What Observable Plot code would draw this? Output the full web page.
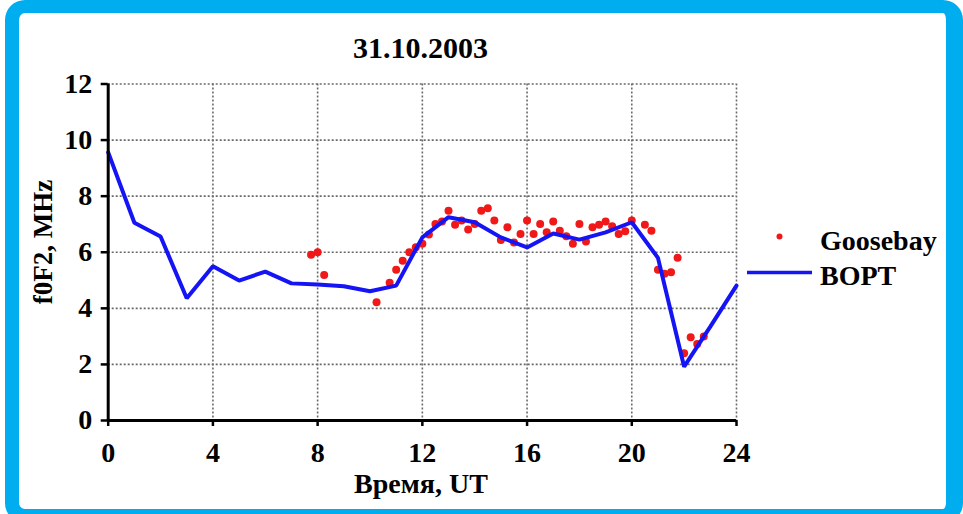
<!DOCTYPE html>
<html>
<head>
<meta charset="utf-8">
<script src="https://cdn.jsdelivr.net/npm/d3@7"></script>
<script src="https://cdn.jsdelivr.net/npm/@observablehq/plot@0.6"></script>
<style>
  html, body { margin: 0; padding: 0; background: #fff; width: 963px; height: 514px; overflow: hidden; }
  #frame {
    position: absolute; left: 5px; top: 0;
    width: 927px; height: 496px;
    border: solid #00adef; border-width: 13px 17px 14px 14px;
    border-radius: 20px; background: #fff;
  }
  #chart { position: absolute; left: 19px; top: 13px; }
  #overlay { position: absolute; left: 0; top: 0; pointer-events: none; }
  #overlay text { font-family: "Liberation Serif", "Times New Roman", serif; font-weight: bold; fill: #000; }
</style>
</head>
<body>
<div id="frame"></div>
<div id="chart"></div>
<svg id="overlay" width="963" height="514">
  <text x="420.5" y="58" text-anchor="middle" font-size="30">31.10.2003</text>
  <text x="421" y="493" text-anchor="middle" font-size="28">Время, UT</text>
  <text transform="translate(52,242) rotate(-90)" text-anchor="middle" font-size="27">f0F2, MHz</text>
  <circle cx="779.5" cy="236.5" r="3" fill="#f01818"></circle>
  <text x="820" y="250" font-size="28">Goosebay</text>
  <line x1="747" x2="812" y1="272.5" y2="272.5" stroke="#1414f5" stroke-width="3.5"></line>
  <text x="820" y="285" font-size="28">BOPT</text>
</svg>
<script>
// f0F2 at Goose Bay, 31 Oct 2003 (15-minute soundings, UT hours)
const gooseHours = [7.75, 8, 8.25, 10.25, 10.75, 11, 11.25, 11.5, 11.75,
  12, 12.25, 12.5, 12.75, 13, 13.25, 13.5, 13.75, 14, 14.25, 14.5, 14.75,
  15, 15.25, 15.5, 15.75, 16, 16.25, 16.5, 16.75, 17, 17.25, 17.5, 17.75,
  18, 18.25, 18.5, 18.75, 19, 19.25, 19.5, 19.75, 20, 20.5, 20.75,
  21, 21.25, 21.5, 21.75, 22, 22.25, 22.5, 22.75];
const gooseF0F2 = [5.91, 6.0, 5.19, 4.22, 4.91, 5.38, 5.70, 6.0, 6.18,
  6.30, 6.63, 7.01, 7.10, 7.48, 6.98, 7.13, 6.81, 7.01, 7.48, 7.57, 7.13,
  6.44, 6.89, 6.35, 6.65, 7.13, 6.65, 7.01, 6.71, 7.10, 6.77, 6.57, 6.30,
  7.01, 6.38, 6.89, 6.98, 7.10, 6.93, 6.65, 6.75, 7.13, 6.98, 6.77,
  5.38, 5.23, 5.29, 5.80, 2.40, 2.97, 2.73, 3.00];

// BOPT model, hourly
const bortHours = [0, 1, 2, 3, 4, 5, 6, 7, 8, 9, 10, 11, 12,
  13, 14, 15, 16, 17, 18, 19, 20, 21, 22, 23, 24];
const bortF0F2 = [9.56, 7.05, 6.56, 4.36, 5.50, 4.99, 5.31, 4.89, 4.85, 4.79, 4.61, 4.81, 6.53,
  7.25, 7.07, 6.53, 6.17, 6.67, 6.45, 6.71, 7.07, 5.80, 1.92, 3.35, 4.81];

const xTicks = [0, 4, 8, 12, 16, 20, 24];
const yTicks = [0, 2, 4, 6, 8, 10, 12];

const goose = gooseHours.map((h, i) => ({hour: h, f0F2: gooseF0F2[i]}));
const bort = bortHours.map((h, i) => ({hour: h, f0F2: bortF0F2[i]}));

const gridStyle = {stroke: "#6a6a6a", strokeOpacity: 1, strokeWidth: 1.6, strokeDasharray: "2,2"};

const chart = Plot.plot({
  width: 741,
  height: 496,
  marginLeft: 88.7,
  marginRight: 24,
  marginTop: 70.5,
  marginBottom: 89,
  style: {
    background: "transparent",
    fontFamily: "'Liberation Serif', 'Times New Roman', serif",
    fontSize: "28px",
    fontWeight: "bold",
    color: "#000",
    overflow: "visible"
  },
  x: {domain: [0, 24]},
  y: {domain: [0, 12]},
  marks: [
    Plot.gridX(xTicks.slice(1), gridStyle),
    Plot.gridY(yTicks.slice(1), gridStyle),
    Plot.dot(goose, {x: "hour", y: "f0F2", r: 4, fill: "#f01818", stroke: "none"}),
    Plot.line(bort, {x: "hour", y: "f0F2", stroke: "#1414f5", strokeWidth: 4, strokeLinejoin: "miter"}),
    Plot.axisX(xTicks, {tickSize: 6, tickPadding: 16, strokeWidth: 2.5, label: null}),
    Plot.axisY(yTicks, {tickSize: 7, tickPadding: 9, strokeWidth: 2.5, label: null}),
    Plot.ruleX([0], {strokeWidth: 3}),
    Plot.ruleY([0], {strokeWidth: 3})
  ]
});
document.getElementById("chart").appendChild(chart);
</script>
</body>
</html>
